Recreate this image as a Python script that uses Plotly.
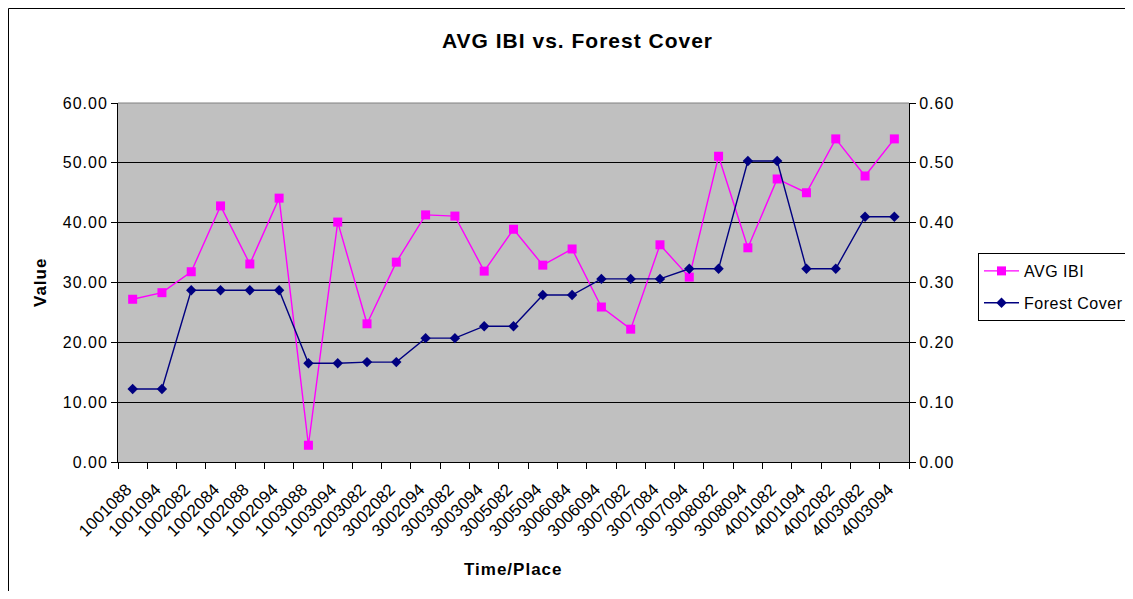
import plotly.graph_objects as go

categories = ["1001088", "1001094", "1002082", "1002084", "1002088", "1002094", "1003088",
              "1003094", "2003082", "3002082", "3002094", "3003082", "3003094", "3005082",
              "3005094", "3006084", "3006094", "3007082", "3007084", "3007094", "3008082",
              "3008094", "4001082", "4001094", "4002082", "4003082", "4003094"]
avg_ibi = [27.2, 28.3, 31.8, 42.8, 33.1, 44.1, 2.8, 40.1, 23.1, 33.4, 41.3, 41.1, 31.9, 38.9,
           32.9, 35.6, 25.9, 22.2, 36.3, 30.9, 51.1, 35.8, 47.3, 45.0, 54.0, 47.8, 54.0]
forest_cover = [0.122, 0.122, 0.287, 0.287, 0.287, 0.287, 0.165, 0.165, 0.167, 0.167, 0.207,
                0.207, 0.227, 0.227, 0.279, 0.279, 0.306, 0.306, 0.306, 0.323, 0.323, 0.503,
                0.503, 0.323, 0.323, 0.41, 0.41]
left_ticks = [0, 10, 20, 30, 40, 50, 60]
right_ticks = [0.0, 0.1, 0.2, 0.3, 0.4, 0.5, 0.6]

# page has 8px body margin; figure is drawn 8px in from the window's edge
OFF = 8
W, H = 1133 - OFF * 2, 599 - OFF * 2
# plot area in window (reference) pixel coordinates
L, R, T, B = 118, 909, 103, 462
pw, ph = R - L, B - T


def px(x):
    return (x - L) / pw


def py(y):
    return (B - y) / ph


def sp(text, ls=1):
    return f'<span style="letter-spacing:{ls}px">{text}</span>'


FONT = "Liberation Sans, Arial, sans-serif"

fig = go.Figure()
fig.add_trace(go.Scatter(
    x=categories, y=avg_ibi, name=sp("AVG IBI", 0.5), mode="lines+markers",
    legendgroup="a",
    line=dict(color="#FF00FF", width=1.4),
    marker=dict(symbol="square", size=9, color="#FF00FF"),
))
fig.add_trace(go.Scatter(
    x=categories, y=forest_cover, name=sp("Forest Cover", 0.5), mode="lines+markers",
    yaxis="y2", legendgroup="b",
    line=dict(color="#000080", width=1.4),
    marker=dict(symbol="diamond", size=8, color="#000080"),
))

fig.update_layout(
    width=W, height=H,
    margin=dict(l=L - OFF, r=(W + OFF) - R, t=T - OFF, b=(H + OFF) - B, autoexpand=False),
    paper_bgcolor="white",
    plot_bgcolor="#C0C0C0",
    font=dict(family=FONT, size=16, color="black"),
    showlegend=True,
    legend=dict(x=px(978), y=py(253), xanchor="left", yanchor="top",
                bordercolor="black", borderwidth=1, bgcolor="white",
                font=dict(size=16), tracegroupgap=8, itemwidth=35),
    xaxis=dict(type="category", range=[-0.5, len(categories) - 0.5],
               tickson="boundaries", ticks="outside", ticklen=6,
               tickcolor="black", showgrid=False, showline=True, linecolor="black",
               linewidth=1, tickangle=-45, tickfont=dict(size=17), zeroline=False,
               automargin=False, ticklabelstandoff=10, ticklabelshift=-6),
    yaxis=dict(range=[0, 60], tickvals=left_ticks,
               ticktext=[sp(f"{v:.2f}") for v in left_ticks], ticks="outside", ticklen=6,
               tickcolor="black", showgrid=True, gridcolor="black", gridwidth=1,
               showline=True, linecolor="black", linewidth=1, zeroline=False,
               tickfont=dict(size=16), automargin=False),
    yaxis2=dict(range=[0, 0.6], tickvals=right_ticks,
                ticktext=[sp(f"{v:.2f}") for v in right_ticks], overlaying="y", side="right",
                ticks="outside", ticklen=6, tickcolor="black", showgrid=False,
                showline=True, linecolor="black", linewidth=1, zeroline=False,
                tickfont=dict(size=16), automargin=False),
    shapes=[
        dict(type="line", xref="paper", yref="paper", x0=0, x1=1, y0=1, y1=1,
             line=dict(color="#808080", width=1)),
        dict(type="line", xref="paper", yref="paper", x0=px(8.5), x1=px(8.5), y0=py(8.5),
             y1=py(620), line=dict(color="black", width=1)),
        dict(type="line", xref="paper", yref="paper", x0=px(8.5), x1=px(1150), y0=py(8.5),
             y1=py(8.5), line=dict(color="black", width=1)),
    ],
    annotations=[
        dict(text="<b>" + sp("AVG IBI vs. Forest Cover") + "</b>", xref="paper", yref="paper",
             x=px(577), y=py(41), showarrow=False, font=dict(size=21),
             xanchor="center", yanchor="middle"),
        dict(text="<b>" + sp("Time/Place") + "</b>", xref="paper", yref="paper",
             x=px(513), y=py(569), showarrow=False, font=dict(size=17),
             xanchor="center", yanchor="middle"),
        dict(text="<b>" + sp("Value") + "</b>", xref="paper", yref="paper", textangle=-90,
             x=px(40), y=py(283), showarrow=False, font=dict(size=17),
             xanchor="center", yanchor="middle"),
    ],
)

fig.write_html("out.html")
